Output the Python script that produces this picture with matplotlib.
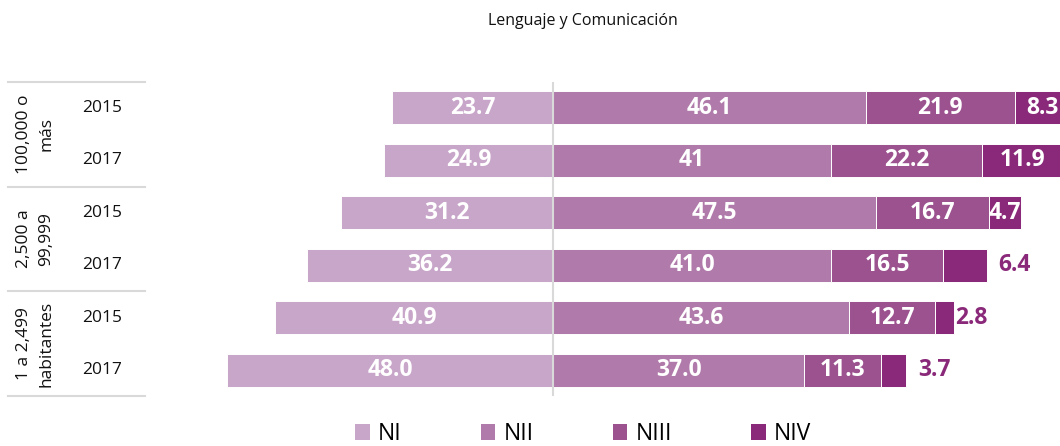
import matplotlib
matplotlib.use("Agg")
import matplotlib.pyplot as plt
import matplotlib.transforms as mtransforms
from matplotlib.patches import Patch
import numpy as np

plt.rcParams['font.family'] = ['Open Sans', 'DejaVu Sans']

# ---------------- data ----------------
title = "Lenguaje y Comunicación"
groups = ["100,000 o\nmás", "2,500 a\n99,999", "1 a 2,499\nhabitantes"]
years = ["2015", "2017", "2015", "2017", "2015", "2017"]
levels = ["NI", "NII", "NIII", "NIV"]

ni = [23.7, 24.9, 31.2, 36.2, 40.9, 48.0]
nii = [46.1, 41.0, 47.5, 41.0, 43.6, 37.0]
niii = [21.9, 22.2, 16.7, 16.5, 12.7, 11.3]
niv = [8.3, 11.9, 4.7, 6.4, 2.8, 3.7]

ni_lab = ["23.7", "24.9", "31.2", "36.2", "40.9", "48.0"]
nii_lab = ["46.1", "41", "47.5", "41.0", "43.6", "37.0"]
niii_lab = ["21.9", "22.2", "16.7", "16.5", "12.7", "11.3"]
niv_lab = ["8.3", "11.9", "4.7", "6.4", "2.8", "3.7"]

# ---------------- style ----------------
colors = ["#C8A6C9", "#B07BAA", "#9B528F", "#8A2979"]
niv_outside = [False, False, False, True, True, True]
niv_offset_pt = [0, 0, 0, 8.5, 0.8, 8.5]
grid_col = "#D9D9D9"

W, H = 1060, 446
fig = plt.figure(figsize=(W / 100, H / 100), dpi=100)
ax = fig.add_axes([150 / W, (H - 396.25) / H, 910 / W, 314.5 / H])

ni_a = np.array(ni)
nii_a = np.array(nii)
niii_a = np.array(niii)
niv_a = np.array(niv)
y = np.arange(len(ni))
bh = 0.63
ekw = dict(edgecolor="white", linewidth=0.7)

ax.barh(y, -ni_a, height=bh, color=colors[0], **ekw)
ax.barh(y, nii_a, height=bh, color=colors[1], **ekw)
ax.barh(y, niii_a, left=nii_a, height=bh, color=colors[2], **ekw)
ax.barh(y, niv_a, left=nii_a + niii_a, height=bh, color=colors[3], **ekw)

ax.set_xlim(-59.35, 74.67)
ax.set_ylim(5.5, -0.5)
ax.axis("off")
ax.axvline(0, color=grid_col, lw=1.5, zorder=4)

lkw = dict(ha="center", va="center", color="white", fontweight="bold", fontsize=16.5, zorder=5)
for i in range(len(y)):
    ax.text(-ni_a[i] / 2, y[i], ni_lab[i], **lkw)
    ax.text(nii_a[i] / 2, y[i], nii_lab[i], **lkw)
    ax.text(nii_a[i] + niii_a[i] / 2, y[i], niii_lab[i], **lkw)
    start = nii_a[i] + niii_a[i]
    if niv_outside[i]:
        ax.annotate(niv_lab[i], xy=(start + niv_a[i], y[i]), xytext=(niv_offset_pt[i], 0),
                    textcoords="offset points", ha="left", va="center",
                    color=colors[3], fontweight="bold", fontsize=16.5, annotation_clip=False)
    else:
        ax.text(start + niv_a[i] / 2, y[i], niv_lab[i], clip_on=False, **lkw)

# left table
blend = mtransforms.blended_transform_factory(fig.transFigure, ax.transData)
for b in [-0.5, 1.5, 3.5, 5.5]:
    ax.plot([8 / W, 145 / W], [b, b], transform=blend, color=grid_col, lw=1.5, clip_on=False)
for i, yr in enumerate(years):
    ax.text(82 / W, y[i], yr, transform=blend, ha="left", va="center", fontsize=12.5, color="#111111")
for g, name in enumerate(groups):
    ax.text(35 / W, 2 * g + 0.5, name, transform=blend, ha="center", va="center",
            rotation=90, fontsize=12.5, linespacing=1.5, multialignment="center", color="#111111")

fig.text(582.5 / W, 1 - 21 / H, title, ha="center", va="center", fontsize=11.5, color="#111111")

handles = [Patch(facecolor=c, edgecolor="none") for c in colors]
fig.legend(handles, levels, loc="center", bbox_to_anchor=(583 / W, 1 - 434 / H), ncol=4,
           frameon=False, fontsize=16.5, handlelength=0.65, handleheight=0.65,
           handletextpad=0.35, columnspacing=3.45, borderaxespad=0, borderpad=0)

fig.savefig("out.png", dpi=100)
